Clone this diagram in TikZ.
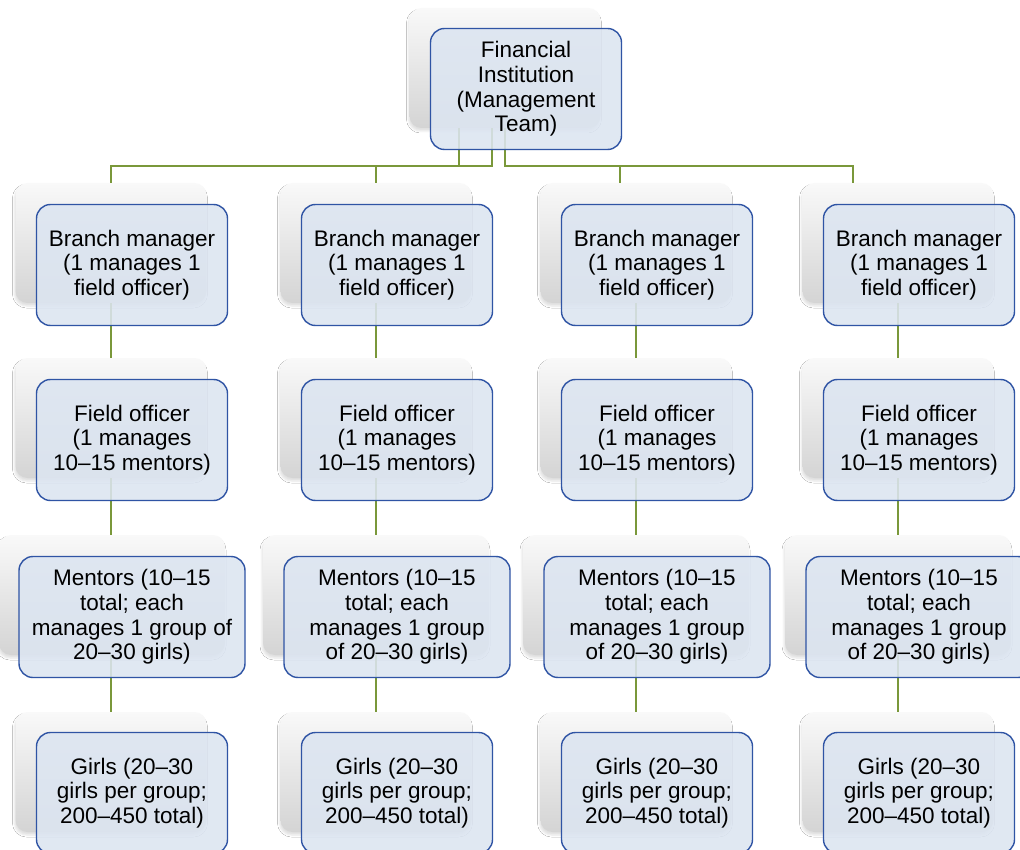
\documentclass[tikz,border=0pt]{standalone}
\usepackage{fontspec}
\setmainfont{Liberation Sans}
\usepackage{tikz}
\usetikzlibrary{shadows.blur}
\definecolor{boxfill}{RGB}{220,229,241}
\definecolor{boxline}{RGB}{47,84,164}
\definecolor{linkgreen}{RGB}{122,152,58}
\definecolor{cardtop}{RGB}{249,249,249}
\definecolor{cardbottom}{RGB}{212,212,212}

\begin{document}
\begin{tikzpicture}[x=1pt, y=-1pt,
    card/.style={rectangle, rounded corners=12pt, minimum width=191pt, minimum height=120pt, inner sep=0pt,
        top color=cardtop, bottom color=cardbottom,
        blur shadow={shadow xshift=-1pt, shadow yshift=-3pt, shadow blur radius=2pt, shadow opacity=12}},
    box/.style={rectangle, rounded corners=14pt, draw=boxline, line width=1.4pt, fill=boxfill, fill opacity=0.88,
        text opacity=1, minimum width=191pt, minimum height=121pt, align=center,
        font=\fontsize{22.5}{24.6}\selectfont},
    wide/.style={minimum width=226pt},
    link/.style={draw=linkgreen, line width=1.5pt}
]
\fill[white] (0,0) rectangle (1020,850);
\useasboundingbox (0,0) rectangle (1020,850);

% back cards
\node[card] (fin) at (505,68) {};
\node[card] (branch1) at (111,243) {};
\node[card] (branch2) at (376,243) {};
\node[card] (branch3) at (636,243) {};
\node[card] (branch4) at (898,243) {};
\node[card] (field1) at (111,418) {};
\node[card] (field2) at (376,418) {};
\node[card] (field3) at (636,418) {};
\node[card] (field4) at (898,418) {};
\node[card, wide] (mentors1) at (112,595) {};
\node[card, wide] (mentors2) at (376,595) {};
\node[card, wide] (mentors3) at (636,595) {};
\node[card, wide] (mentors4) at (898,595) {};
\node[card] (girls1) at (111,772) {};
\node[card] (girls2) at (376,772) {};
\node[card] (girls3) at (636,772) {};
\node[card] (girls4) at (898,772) {};

% connectors
\draw[link] ([xshift=-46pt]fin.south) -- ++(0,38) -| (branch1.north);
\draw[link] ([xshift=-13pt]fin.south) -- ++(0,38) -| (branch2.north);
\draw[link] (fin.south) -- ++(0,38) -| ([xshift=-16pt]branch3.north);
\draw[link] (fin.south) -- ++(0,38) -| ([xshift=-45pt]branch4.north);
\draw[link] (branch1) -- (field1);
\draw[link] (branch2) -- (field2);
\draw[link] (branch3) -- (field3);
\draw[link] (branch4) -- (field4);
\draw[link] (field1) -- (field1 |- mentors1.north);
\draw[link] (field2) -- (mentors2);
\draw[link] (field3) -- (mentors3);
\draw[link] (field4) -- (mentors4);
\draw[link] (mentors1.south -| girls1) -- (girls1);
\draw[link] (mentors2) -- (girls2);
\draw[link] (mentors3) -- (girls3);
\draw[link] (mentors4) -- (girls4);

% front boxes
\node[box] (finbox) at (526,89) {Financial\\Institution\\(Management\\Team)};
\node[box] (branch1box) at (132,265) {Branch manager\\(1 manages 1\\field officer)};
\node[box] (branch2box) at (397,265) {Branch manager\\(1 manages 1\\field officer)};
\node[box] (branch3box) at (657,265) {Branch manager\\(1 manages 1\\field officer)};
\node[box] (branch4box) at (919,265) {Branch manager\\(1 manages 1\\field officer)};
\node[box] (field1box) at (132,440) {Field officer\\(1 manages\\10–15 mentors)};
\node[box] (field2box) at (397,440) {Field officer\\(1 manages\\10–15 mentors)};
\node[box] (field3box) at (657,440) {Field officer\\(1 manages\\10–15 mentors)};
\node[box] (field4box) at (919,440) {Field officer\\(1 manages\\10–15 mentors)};
\node[box, wide] (mentors1box) at (132,617) {Mentors (10–15\\total; each\\manages 1 group of\\20–30 girls)};
\node[box, wide] (mentors2box) at (397,617) {Mentors (10–15\\total; each\\manages 1 group\\of 20–30 girls)};
\node[box, wide] (mentors3box) at (657,617) {Mentors (10–15\\total; each\\manages 1 group\\of 20–30 girls)};
\node[box, wide] (mentors4box) at (919,617) {Mentors (10–15\\total; each\\manages 1 group\\of 20–30 girls)};
\node[box] (girls1box) at (132,793) {Girls (20–30\\girls per group;\\200–450 total)};
\node[box] (girls2box) at (397,793) {Girls (20–30\\girls per group;\\200–450 total)};
\node[box] (girls3box) at (657,793) {Girls (20–30\\girls per group;\\200–450 total)};
\node[box] (girls4box) at (919,793) {Girls (20–30\\girls per group;\\200–450 total)};

\end{tikzpicture}
\end{document}
